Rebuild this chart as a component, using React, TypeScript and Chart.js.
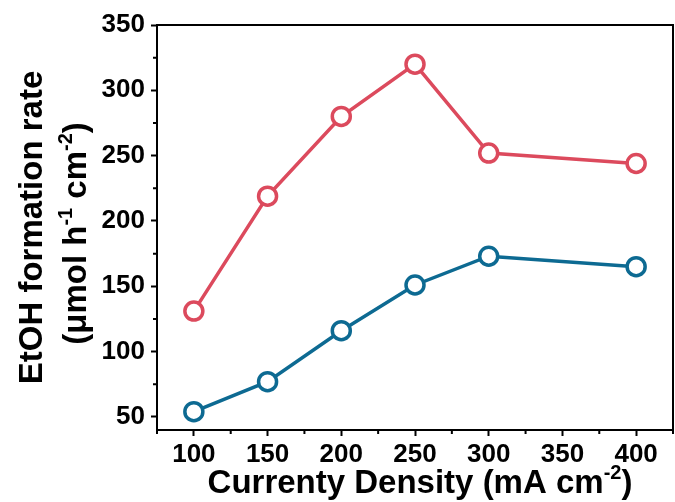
import React, { useEffect, useRef } from "react";
import { Chart, registerables } from "chart.js";
Chart.register(...registerables);

const currentDensity = [100, 150, 200, 250, 300, 400];
const rateRed = [131, 219, 280, 320, 252, 244];
const rateBlue = [54, 77, 116, 151, 173, 165];
const xTickValues = [100, 150, 200, 250, 300, 350, 400];
const yTickValues = [50, 100, 150, 200, 250, 300, 350];
const xMin = 75;
const xMax = 425;
const yMin = 40;
const yMax = 350;

type Part = { t: string; sup?: boolean };
const xTitle: Part[] = [{ t: "Currenty Density (mA cm" }, { t: "-2", sup: true }, { t: ")" }];
const yTitle1: Part[] = [{ t: "EtOH formation rate" }];
const yTitle2: Part[] = [{ t: "(μmol h" }, { t: "-1", sup: true }, { t: " cm" }, { t: "-2", sup: true }, { t: ")" }];

const RED = "#dc4a5d";
const BLUE = "#0d6a92";
const FAMILY = '"Liberation Sans", Arial, Helvetica, sans-serif';
const TITLE_SIZE = 33;
const TICK_SIZE = 26;

function richWidth(ctx: CanvasRenderingContext2D, parts: Part[], size: number) {
  let w = 0;
  for (const p of parts) {
    ctx.font = `bold ${p.sup ? Math.round(size * 0.62) : size}px ${FAMILY}`;
    w += ctx.measureText(p.t).width;
  }
  return w;
}

function drawRich(ctx: CanvasRenderingContext2D, parts: Part[], size: number, cx: number, baseline: number) {
  const w = richWidth(ctx, parts, size);
  let x = cx - w / 2;
  ctx.textAlign = "left";
  ctx.textBaseline = "alphabetic";
  ctx.fillStyle = "#000";
  for (const p of parts) {
    const s = p.sup ? Math.round(size * 0.62) : size;
    ctx.font = `bold ${s}px ${FAMILY}`;
    ctx.fillText(p.t, x, p.sup ? baseline - size * 0.42 : baseline);
    x += ctx.measureText(p.t).width;
  }
}

const framePlugin = {
  id: "frameAndTitles",
  afterDraw(chart: any) {
    const ctx: CanvasRenderingContext2D = chart.ctx;
    const { left, right, top, bottom } = chart.chartArea;
    ctx.save();
    ctx.strokeStyle = "#000";
    ctx.lineWidth = 2;
    ctx.strokeRect(left, top, right - left, bottom - top);

    // minor ticks halfway between major ticks
    const minorLen = 4;
    const xs = chart.scales.x;
    const ys = chart.scales.y;
    const minorVals = (scale: any) => {
      const vals: number[] = [];
      const t = scale.ticks.map((k: any) => k.value);
      if (t.length < 2) return vals;
      const half = (t[1] - t[0]) / 2;
      const cand = [t[0] - half, ...t.map((v: number) => v + half)];
      for (const v of cand) if (v >= scale.min && v <= scale.max) vals.push(v);
      return vals;
    };
    ctx.beginPath();
    for (const v of minorVals(xs)) {
      const px = xs.getPixelForValue(v);
      ctx.moveTo(px, bottom);
      ctx.lineTo(px, bottom + minorLen);
    }
    for (const v of minorVals(ys)) {
      const py = ys.getPixelForValue(v);
      ctx.moveTo(left, py);
      ctx.lineTo(left - minorLen, py);
    }
    ctx.stroke();

    // x title
    drawRich(ctx, xTitle, TITLE_SIZE, 420, 493);

    // y title, two rotated lines
    const cy = (top + bottom) / 2;
    ctx.save();
    ctx.translate(42, cy);
    ctx.rotate(-Math.PI / 2);
    drawRich(ctx, yTitle1, TITLE_SIZE, 0, 0);
    ctx.restore();
    ctx.save();
    ctx.translate(86, cy + 6);
    ctx.rotate(-Math.PI / 2);
    drawRich(ctx, yTitle2, TITLE_SIZE, 0, 0);
    ctx.restore();
    ctx.restore();
  },
};

export default function App() {
  const ref = useRef<HTMLCanvasElement>(null);
  useEffect(() => {
    document.body.style.margin = "0";
    const tickFont = { family: FAMILY, size: TICK_SIZE, weight: "bold" as const };
    const ds = (vals: number[], color: string) => ({
      data: currentDensity.map((x, i) => ({ x, y: vals[i] })),
      borderColor: color,
      backgroundColor: "#fff",
      borderWidth: 3.5,
      pointRadius: 9,
      pointBorderWidth: 3.5,
      pointBackgroundColor: "#fff",
      pointBorderColor: color,
    });
    const chart = new Chart(ref.current!, {
      type: "line",
      data: { datasets: [ds(rateRed, RED), ds(rateBlue, BLUE)] },
      options: {
        animation: false,
        responsive: false,
        maintainAspectRatio: false,
        layout: { autoPadding: false, padding: { top: 25, right: 2, left: 0, bottom: 0 } },
        plugins: { legend: { display: false }, tooltip: { enabled: false } },
        scales: {
          x: {
            type: "linear",
            min: xMin,
            max: xMax,
            afterBuildTicks: (s: any) => {
              s.ticks = xTickValues.map((value) => ({ value }));
            },
            afterFit: (s: any) => {
              s.height = 72;
              s.paddingLeft = 0;
              s.paddingRight = 0;
            },
            grid: { drawOnChartArea: false, drawTicks: true, tickLength: 6, tickWidth: 2, tickColor: "#000" },
            border: { display: false },
            ticks: { font: tickFont, color: "#000", padding: 3, maxRotation: 0, autoSkip: false },
          },
          y: {
            type: "linear",
            min: yMin,
            max: yMax,
            afterBuildTicks: (s: any) => {
              s.ticks = yTickValues.map((value) => ({ value }));
            },
            afterFit: (s: any) => {
              s.width = 157;
              s.paddingTop = 0;
              s.paddingBottom = 0;
            },
            grid: { drawOnChartArea: false, drawTicks: true, tickLength: 6, tickWidth: 2, tickColor: "#000" },
            border: { display: false },
            ticks: { font: tickFont, color: "#000", padding: 6, autoSkip: false },
          },
        },
      },
      plugins: [framePlugin],
    });
    return () => chart.destroy();
  }, []);
  return (
    <div style={{ width: 675, height: 502 }}>
      <canvas ref={ref} width={675} height={502} style={{ display: "block" }} />
    </div>
  );
}
